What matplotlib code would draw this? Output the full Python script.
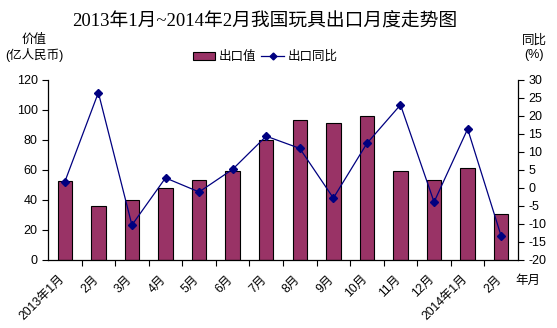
import matplotlib
matplotlib.use("Agg")
import matplotlib.pyplot as plt
import matplotlib.transforms as mtransforms
import numpy as np
from matplotlib.lines import Line2D
from matplotlib.patches import Patch

months = ["2013年1月", "2月", "3月", "4月", "5月", "6月", "7月", "8月", "9月",
          "10月", "11月", "12月", "2014年1月", "2月"]
export_value = [52.5, 35.8, 40.0, 48.3, 53.6, 59.2, 79.7, 93.4, 91.4, 96.2, 59.6, 53.6, 61.6, 30.5]
yoy_growth = [1.7, 26.5, -10.3, 2.8, -1.1, 5.2, 14.4, 11.0, -2.8, 12.4, 23.1, -3.9, 16.4, -13.4]
left_ticks = [0, 20, 40, 60, 80, 100, 120]
right_ticks = [-20, -15, -10, -5, 0, 5, 10, 15, 20, 25, 30]

SANS = ["Liberation Sans", "Noto Sans CJK SC"]
SERIF = ["Liberation Serif", "Noto Sans CJK SC"]
plt.rcParams['font.family'] = SANS
plt.rcParams['axes.unicode_minus'] = False

W, H = 557, 328
fig = plt.figure(figsize=(W / 100, H / 100), dpi=100)
fig.patch.set_facecolor("white")
ax = fig.add_axes([48 / W, 1 - 260 / H, (518 - 48) / W, (260 - 80) / H])
ax2 = ax.twinx()

x = np.arange(len(months))
ax.bar(x, export_value, width=0.43, color="#993366", edgecolor="black", linewidth=0.8, zorder=2)
ax2.plot(x, yoy_growth, color="#000080", linewidth=0.9, marker="D", markersize=4.5,
         markerfacecolor="#000080", markeredgecolor="#000080", zorder=3)

ax.set_xlim(-0.5, len(months) - 0.5)
ax.set_ylim(0, 120)
ax2.set_ylim(-20, 30)
ax.set_yticks(left_ticks)
ax2.set_yticks(right_ticks)

ax.set_xticks(x)
ax.set_xticklabels(months, rotation=45, ha="right", rotation_mode="anchor", fontsize=8.7)
ax.tick_params(axis="x", length=0, pad=8)
offset = mtransforms.ScaledTranslation(-6 / 100, -2 / 100, fig.dpi_scale_trans)
for lbl in ax.get_xticklabels():
    lbl.set_transform(lbl.get_transform() + offset)
ax.set_xticks(np.arange(0.5, len(months) - 0.5, 1), minor=True)
ax.tick_params(axis="x", which="minor", length=4, width=0.8, direction="out")
ax.tick_params(axis="y", length=4, width=0.8, labelsize=9, direction="out")
ax2.tick_params(axis="y", length=4, width=0.8, labelsize=9, direction="out")

for a in (ax, ax2):
    a.spines["top"].set_visible(False)
    for s in ("left", "right", "bottom"):
        a.spines[s].set_linewidth(0.9)
ax.spines["right"].set_visible(False)
ax2.spines["left"].set_visible(False)
ax2.spines["bottom"].set_visible(False)
ax.set_zorder(ax2.get_zorder() - 1)
ax.patch.set_visible(False)

fig.text(265 / W, 1 - 22 / H, "2013年1月~2014年2月我国玩具出口月度走势图", ha="center", va="center",
         fontsize=13.5, family=SERIF, fontweight="light")
fig.text(34 / W, 1 - 48 / H, "价值\n(亿人民币)", ha="center", va="center", fontsize=9,
         linespacing=1.2)
fig.text(534 / W, 1 - 48 / H, "同比\n(%)", ha="center", va="center", fontsize=9,
         linespacing=1.2)
fig.text(528 / W, 1 - 281 / H, "年月", ha="center", va="center", fontsize=9)

handles = [Patch(facecolor="#993366", edgecolor="black", linewidth=0.8),
           Line2D([0], [0], color="#000080", linewidth=0.9, marker="D", markersize=3.5,
                  markerfacecolor="#000080")]
fig.legend(handles, ["出口值", "出口同比"], loc="center", bbox_to_anchor=(265 / W, 1 - 57 / H),
           ncol=2, frameon=False, fontsize=9, handlelength=1.8, handleheight=0.6,
           columnspacing=0.4, handletextpad=0.3, borderpad=0)

fig.savefig("out.png", dpi=100, facecolor="white")
